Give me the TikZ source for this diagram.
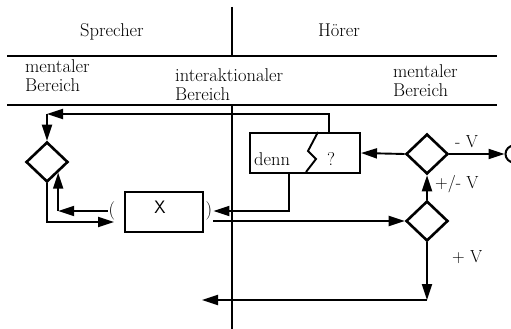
\documentclass[tikz,border=0pt]{standalone}
\usepackage{fontspec}
\usetikzlibrary{shapes.geometric,arrows.meta,calc}
\begin{document}
\begin{tikzpicture}[x=1pt,y=-1pt,
  every node/.style={font=\fontsize{18.5}{19.5}\selectfont},
  divider/.style={line width=2.4pt},
  conn/.style={line width=1.9pt},
  arr/.style={conn,-{Triangle[length=16pt,width=10pt]}},
  dec/.style={diamond,draw,line width=2.6pt,minimum width=42pt,minimum height=40pt,inner sep=0pt},
  box/.style={draw,line width=2pt,inner sep=0pt},
  txt/.style={anchor=north west,align=left,inner sep=0pt},
  lbl/.style={inner sep=0pt,anchor=base west,font=\fontsize{17.5}{19}\selectfont},
  paren/.style={inner sep=1pt}]
\useasboundingbox (0,0) rectangle (511,329);
% dividers
\draw[divider] (232,7) -- (232,56);
\draw[divider] (232,105) -- (232,329);
\draw[divider] (7,56) -- (497,56);
\draw[divider] (7,105) -- (497,105);
% headings
\node[anchor=base] (sp) at (112,37) {Sprecher};
\node[anchor=base] (hr) at (339,37) {Hörer};
\node[txt] (ml) at (25,59) {mentaler\\Bereich};
\node[txt] (ia) at (175,68) {interaktionaler\\Bereich};
\node[txt] (mr) at (393,64) {mentaler\\Bereich};
% shapes
\node[dec] (dL) at (47,162) {};
\node[dec] (dR1) at (427,154) {};
\node[dec] (dR2) at (427,221) {};
\node[box,minimum width=110pt,minimum height=40pt] (denn) at (305,153) {};
\node[inner sep=0pt,anchor=base west] (dt) at (254,165) {denn};
\node[inner sep=0pt,anchor=base west] (qm) at (327,165) {?};
\draw[conn] ($(denn.north west)+(69,0)$) -- ($(denn.north west)+(59,19)$)
  -- ($(denn.north west)+(67,27)$) -- ($(denn.north west)+(57,40)$);
\node[box,minimum width=78pt,minimum height=40pt] (xb) at (164,212) {};
\node[font=\sffamily\fontsize{18}{19}\selectfont,inner sep=0pt] (xl) at (160,207) {X};
\node[paren] (lp) at (112,211) {(};
\node[paren] (rp) at (209,211) {)};
\node[circle,draw,line width=2pt,minimum size=17pt,inner sep=0pt] (end) at (514,154) {};
% connectors
\coordinate (c1) at (47,114);
\draw[arr] ($(denn.north west)+(80,0)$) |- (c1);
\draw[arr] (c1) -- (dL.north);
\coordinate (c2) at (dL.south east |- lp.west);
\draw[arr] (lp.west) -- (c2);
\draw[arr] (c2) -- (dL.south east);
\coordinate (c3) at (114,222);
\draw[arr] (dL.south) |- (c3);
\draw[arr] ($(denn.south west)+(40,0)$) |- (rp.east);
\coordinate (c5) at (213,221);
\draw[arr] (c5) -- (dR2.west);
\draw[arr] (dR2.north) -- (dR1.south);
\draw[arr] (dR1.west) -- (denn.east);
\draw[arr] (dR1.east) -- (end.west);
\coordinate (c6) at (427,300);
\coordinate (c7) at (202,300);
\draw[arr] (dR2.south) -- (c6);
\draw[arr] (c6) -- (c7);
% labels
\node[lbl] (lv1) at (455,147) {- V};
\node[lbl] (lv2) at (435,188) {+/- V};
\node[lbl] (lv3) at (452,262) {+ V};
\end{tikzpicture}
\end{document}
